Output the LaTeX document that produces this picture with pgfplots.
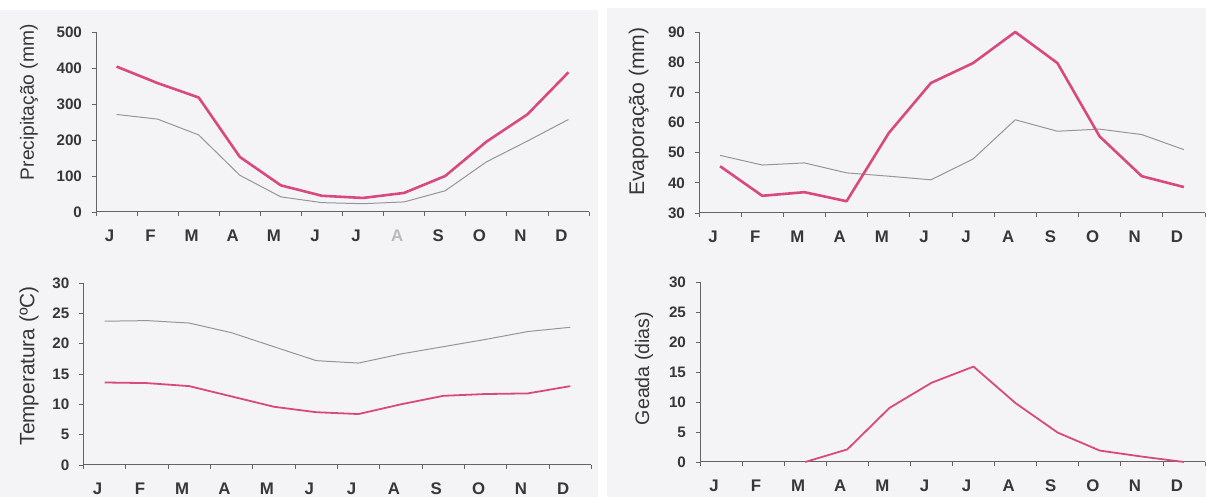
\documentclass[border=0pt]{standalone}
\usepackage{pgfplots}
\pgfplotsset{compat=1.18}
\usepackage{fontspec}
\setmainfont{Liberation Sans}
\definecolor{redl}{RGB}{216,74,126}
\definecolor{grayl}{RGB}{150,150,150}
\definecolor{txt}{RGB}{55,55,55}
\definecolor{axc}{RGB}{100,100,100}
\definecolor{bg}{RGB}{244,244,246}
\pgfplotsset{
  panel/.style={
    scale only axis, clip=false,
    axis lines=left,
    axis line style={draw=axc, line width=0.5pt, -},
    xmin=0, xmax=12,
    xtick={0,1,...,12}, xticklabels={},
    extra x ticks={0.5,1.5,...,11.5},
    extra x tick style={major tick length=0pt},
    tick align=outside,
    major tick length=2pt,
    tick style={draw=axc, line width=0.4pt},
    /pgf/number format/assume math mode=true,
    every tick label/.append style={text=txt, font=\fontsize{7.6}{9}\selectfont\bfseries},
    extra x tick style={xticklabel style={yshift=-5.5pt, xshift=-3.5pt, font=\fontsize{8.4}{10}\selectfont\bfseries}},
    yticklabel style={xshift=-1.5pt},
    every axis y label/.style={rotate=90, anchor=center, text=txt},
  },
  redp/.style={draw=redl, line width=1.3pt, line join=round},
  redt/.style={draw=redl, line width=0.9pt, line join=round},
  grayp/.style={draw=grayl, line width=0.5pt, line join=round},
}
\begin{document}
\begin{tikzpicture}
\path[use as bounding box] (0,0) rectangle (603pt,248.5pt);
\fill[bg] (0,0) rectangle (299pt,243.5pt);
\fill[bg] (303.5pt,0) rectangle (603pt,244.5pt);

% Precipitacao
\begin{axis}[panel, at={(48pt,142.5pt)}, anchor=south west,
  width=246.5pt, height=90pt, ymin=0, ymax=500, ytick={0,100,...,500},
  extra x tick labels={J,F,M,A,M,J,J,\textcolor{gray!55}{A},S,O,N,D},
  ylabel={Precipitação (mm)},
  ylabel style={at={(axis description cs:-0.136,0.61)}, font=\fontsize{9.6}{11}\selectfont}]
\addplot[grayp] coordinates {(0.5,271)(1.5,258)(2.5,214)(3.5,102)(4.5,42)(5.5,26)(6.5,23)(7.5,28)(8.5,59)(9.5,139)(10.5,197)(11.5,257)};
\addplot[redp] coordinates {(0.5,404)(1.5,358)(2.5,318)(3.5,153)(4.5,74)(5.5,45)(6.5,39)(7.5,53)(8.5,100)(9.5,195)(10.5,271)(11.5,388)};
\end{axis}

% Evaporacao
\begin{axis}[panel, at={(349.5pt,142pt)}, anchor=south west,
  width=253pt, height=90.5pt, ymin=30, ymax=90, ytick={30,40,...,90},
  extra x tick labels={J,F,M,A,M,J,J,A,S,O,N,D},
  ylabel={Evaporação (mm)},
  ylabel style={at={(axis description cs:-0.119,0.56)}, font=\fontsize{10.6}{12}\selectfont}]
\addplot[grayp] coordinates {(0.5,49.1)(1.5,45.9)(2.5,46.6)(3.5,43.3)(4.5,42.2)(5.5,41.0)(6.5,47.9)(7.5,60.9)(8.5,57.1)(9.5,57.8)(10.5,56.0)(11.5,51.0)};
\addplot[redp] coordinates {(0.5,45.5)(1.5,35.7)(2.5,36.9)(3.5,33.9)(4.5,56.5)(5.5,73.1)(6.5,79.7)(7.5,90)(8.5,79.7)(9.5,55.4)(10.5,42.2)(11.5,38.6)};
\end{axis}

% Temperatura
\begin{axis}[panel, at={(41.7pt,16pt)}, anchor=south west,
  width=254pt, height=91pt, ymin=0, ymax=30, ytick={0,5,...,30},
  extra x tick labels={J,F,M,A,M,J,J,A,S,O,N,D},
  ylabel={Temperatura (ºC)},
  ylabel style={at={(axis description cs:-0.107,0.545)}, font=\fontsize{10.4}{12}\selectfont}]
\addplot[grayp] coordinates {(0.5,23.7)(1.5,23.8)(2.5,23.4)(3.5,21.8)(4.5,19.5)(5.5,17.2)(6.5,16.8)(7.5,18.3)(8.5,19.5)(9.5,20.7)(10.5,22.0)(11.5,22.7)};
\addplot[redt] coordinates {(0.5,13.6)(1.5,13.5)(2.5,13.0)(3.5,11.3)(4.5,9.6)(5.5,8.7)(6.5,8.4)(7.5,10.0)(8.5,11.4)(9.5,11.7)(10.5,11.8)(11.5,13.0)};
\end{axis}

% Geada
\begin{axis}[panel, at={(350pt,17.5pt)}, anchor=south west,
  width=252.5pt, height=90pt, ymin=0, ymax=30, ytick={0,5,...,30},
  extra x tick labels={J,F,M,A,M,J,J,A,S,O,N,D},
  ylabel={Geada (dias)},
  ylabel style={at={(axis description cs:-0.111,0.52)}, font=\fontsize{9.8}{11}\selectfont}]
\addplot[redt] coordinates {(2.5,0)(3.5,2.1)(4.5,9.0)(5.5,13.2)(6.5,15.9)(7.5,9.8)(8.5,4.9)(9.5,1.9)(10.5,0.9)(11.5,0)};
\end{axis}
\end{tikzpicture}
\end{document}
